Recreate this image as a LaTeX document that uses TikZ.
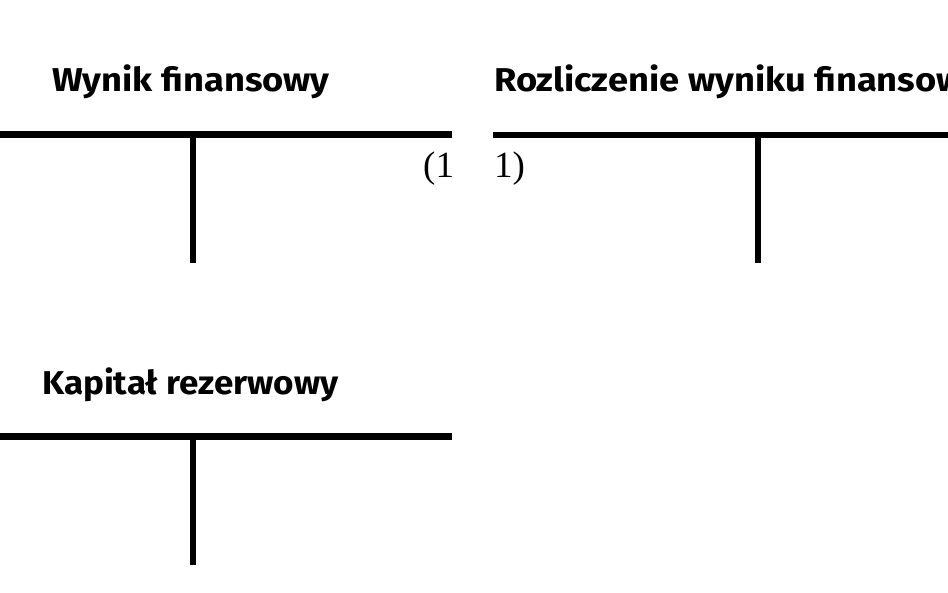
\documentclass[tikz,border=0pt]{standalone}
\usepackage{fontspec}
\setmainfont{Fira Sans}
\newfontfamily\titlefont[FakeStretch=1.1]{Fira Sans}
\newfontfamily\titlefontn[FakeStretch=1.06]{Fira Sans}
\newfontfamily\numfont{Liberation Serif}
\begin{document}
\begin{tikzpicture}[x=1pt,y=-1pt,
  title/.style={anchor=base west,inner sep=0pt,font=\titlefont\fontsize{33}{38}\selectfont\bfseries},
  titlenarrow/.style={title,font=\titlefontn\fontsize{33}{38}\selectfont\bfseries},
  entry/.style={anchor=base west,inner sep=0pt,font=\numfont\fontsize{37}{40}\selectfont},
  tline/.style={line width=6.5pt,line cap=butt}]
\useasboundingbox (0,0) rectangle (948,593);
\begin{scope}
\clip (0,0) rectangle (948,593);
% titles
\node[title] (t1) at (52,92) {Wynik finansowy};
\node[title] (t2) at (494,92) {Rozliczenie wyniku finansowego};
\node[titlenarrow] (t3) at (42,395) {Kapitał rezerwowy};
% account 1
\coordinate (a1l) at (0,134.5);
\coordinate (a1r) at (452,134.5);
\coordinate (a1t) at (193,134.5);
\coordinate (a1b) at (193,263);
\draw[tline] (a1l) -- (a1r);
\draw[tline] (a1t) -- (a1b);
% account 2
\coordinate (a2l) at (493,135);
\coordinate (a2r) at (960,135);
\coordinate (a2t) at (758,135);
\coordinate (a2b) at (758,263);
\draw[tline] (a2l) -- (a2r);
\draw[tline] (a2t) -- (a2b);
% account 3
\coordinate (a3l) at (0,436.5);
\coordinate (a3r) at (452,436.5);
\coordinate (a3t) at (193,436.5);
\coordinate (a3b) at (193,565);
\draw[tline] (a3l) -- (a3r);
\draw[tline] (a3t) -- (a3b);
% entries
\node[entry] (e1) at (423,178) {(1};
\node[entry] (e2) at (494,178) {1)};
\end{scope}
\end{tikzpicture}
\end{document}
